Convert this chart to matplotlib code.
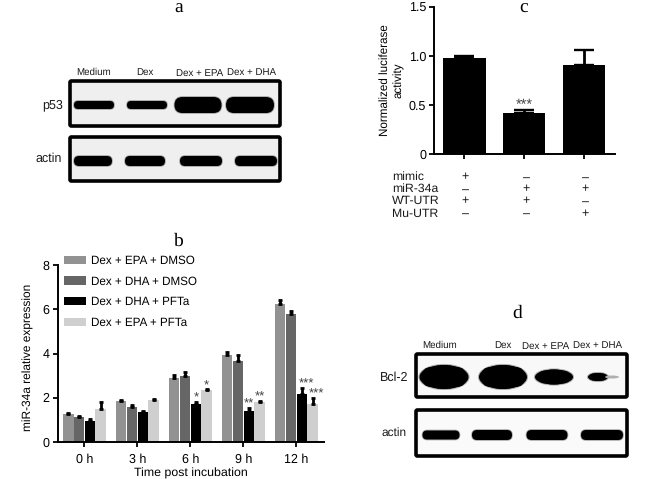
import matplotlib
matplotlib.use("Agg")
import matplotlib.pyplot as plt
from matplotlib.patches import Ellipse, FancyBboxPatch
import numpy as np

plt.rcParams['font.family'] = ['Liberation Sans', 'DejaVu Sans']
plt.rcParams['text.hinting'] = 'no_hinting'

# panel b
times = ["0 h", "3 h", "6 h", "9 h", "12 h"]
series_names = ["Dex + EPA + DMSO", "Dex + DHA + DMSO", "Dex + DHA + PFTa", "Dex + EPA + PFTa"]
series_colors = ["#929292", "#666666", "#000000", "#cfcfcf"]
epa_dmso = [1.27, 1.85, 2.90, 3.93, 6.22]
dha_dmso = [1.13, 1.58, 3.00, 3.65, 5.80]
dha_pfta = [0.97, 1.35, 1.70, 1.40, 2.15]
epa_pfta = [1.50, 1.88, 2.33, 1.82, 1.70]
epa_dmso_err = [0.05, 0.07, 0.12, 0.12, 0.22]
dha_dmso_err = [0.05, 0.10, 0.15, 0.30, 0.10]
dha_pfta_err = [0.05, 0.05, 0.12, 0.15, 0.30]
epa_pfta_err = [0.30, 0.07, 0.05, 0.05, 0.30]
# (group, series, stars)
b_stars = [(2, 2, "*"), (2, 3, "*"), (3, 2, "**"), (3, 3, "**"), (4, 2, "***"), (4, 3, "***")]

# panel c
c_values = [0.98, 0.42, 0.91]
c_err = [0.02, 0.03, 0.15]
c_rows = ["mimic", "miR-34a", "WT-UTR", "Mu-UTR"]
c_signs = [["+", "–", "–"], ["–", "+", "+"], ["+", "+", "–"], ["–", "–", "+"]]

# blots: band centre x, width, height in pixels of the picture
a_lanes = ["Medium", "Dex", "Dex + EPA", "Dex + DHA"]
a_p53 = [(94, 40, 8), (147, 40, 8), (198, 47, 16), (250, 48, 16)]
a_actin = [(93, 38, 10), (145, 40, 10), (201, 42, 10), (256, 42, 10)]
d_bcl2 = [(444, 49, 24), (503, 48, 24), (554, 38, 15), (598, 20, 8)]
d_actin = [(441, 37, 9), (492, 40, 10), (547, 41, 10), (602, 42, 10)]

fig = plt.figure(figsize=(6.48, 4.79), dpi=100)
W, H = 648.0, 479.0


def px_axes(left, top, right, bottom):
    return fig.add_axes([left / W, 1 - bottom / H, (right - left) / W, (bottom - top) / H])


overlay = fig.add_axes([0, 0, 1, 1], zorder=5)
overlay.set_xlim(0, W)
overlay.set_ylim(H, 0)
overlay.axis("off")
overlay.patch.set_alpha(0)


def blot(left, top, right, bottom, bands, y, shape="round", bg="#efefef"):
    overlay.add_patch(FancyBboxPatch((left, top), right - left, bottom - top,
                                     boxstyle="round,pad=0,rounding_size=1.5",
                                     fc=bg, ec="black", lw=2.6))
    for x, w, h in bands:
        if shape == "ellipse":
            overlay.add_patch(Ellipse((x, y), w, h, fc="black", ec="#00000050", lw=1.5))
            overlay.add_patch(Ellipse((x, y), w * 0.86, h * 1.0, fc="black", ec="none"))
            overlay.add_patch(FancyBboxPatch((x - w * 0.25, y), w * 0.5, 0,
                                             boxstyle="round,pad=%f" % (h * 0.42),
                                             fc="black", ec="none"))
        else:
            overlay.add_patch(FancyBboxPatch((x - w / 2 + h / 2, y), w - h, 0,
                                             boxstyle="round,pad=%f" % (h / 2),
                                             fc="black", ec="#00000050", lw=1.2))


def label(x, y, s, size=7, **kw):
    overlay.text(x, y, s, fontsize=size, ha=kw.pop("ha", "center"), va="center", color="#1a1a1a", **kw)


for x, y, s in [(179, 8, "a"), (179, 241, "b"), (524, 8, "c"), (517, 313, "d")]:
    overlay.text(x, y, s, fontsize=14, family="Liberation Serif", ha="center", va="center")

# panel a
blot(70, 81, 280, 126, a_p53, 105)
blot(70, 137, 280, 181, a_actin, 161)
for x, y, s in zip([94, 145, 200, 252], [72, 72, 73, 72], a_lanes):
    label(x, y, s)
label(53, 105, "p53", 9)
label(49, 159, "actin", 9)

# panel d
blot(416, 354, 627, 397, d_bcl2, 377, "ellipse", "#f8f8f8")
overlay.add_patch(Ellipse((612, 377), 14, 3, fc="#b0b0b0", ec="none"))
blot(416, 410, 627, 456, d_actin, 435, bg="#fafafa")
for x, y, s in zip([440, 503, 546, 598], [345, 345, 346, 345], a_lanes):
    label(x, y, s)
label(394, 378, "Bcl-2", 9)
label(394, 433, "actin", 8.6)

# panel b chart
ax = px_axes(58.3, 265, 324, 442)
x = np.arange(len(times))
bar_w = 0.205
all_vals = [epa_dmso, dha_dmso, dha_pfta, epa_pfta]
all_errs = [epa_dmso_err, dha_dmso_err, dha_pfta_err, epa_pfta_err]
for i in range(4):
    pos = x + (i - 1.5) * bar_w
    ax.bar(pos, all_vals[i], bar_w * 0.98, color=series_colors[i], label=series_names[i], zorder=2)
    ax.errorbar(pos, all_vals[i], yerr=[np.zeros(5), all_errs[i]], fmt="none", ecolor="black",
                elinewidth=2, capsize=1.2, capthick=2, zorder=3)
for g, s, stars in b_stars:
    top = all_vals[s][g] + all_errs[s][g]
    # the 12 h stars sit a little to the right of their bars
    shift = 0.08 if g == 4 else 0
    ax.text(x[g] + (s - 1.5) * bar_w + shift, top + 0.16, stars, fontsize=9.5, color="#444444",
            ha="center", va="center")
ax.set_xlim(-0.494, 4.52)
ax.set_ylim(0, 8)
ax.set_yticks([0, 2, 4, 6, 8])
ax.set_xticks(x)
ax.set_xticklabels(times)
ax.tick_params(labelsize=9, width=1.3, length=3.5, pad=3)
ax.tick_params(axis="x", pad=5)
ax.set_xlabel("Time post incubation", fontsize=8.9, labelpad=1)
ax.set_ylabel("miR-34a relative expression", fontsize=8.6, labelpad=6, y=0.477)
ax.spines["top"].set_visible(False)
ax.spines["right"].set_visible(False)
ax.spines["left"].set_linewidth(1.4)
ax.spines["bottom"].set_linewidth(1.4)
ax.legend(loc="upper left", bbox_to_anchor=(0.021, 1.056), frameon=False, fontsize=8.4,
          handlelength=1.9, handleheight=0.7, labelspacing=0.82, handletextpad=0.45, borderpad=0,
          borderaxespad=0)

# panel c chart
axc = px_axes(434, 7.3, 615, 153.7)
xc = np.arange(3)
axc.bar(xc, c_values, 0.71, color="black", zorder=2)
axc.errorbar(xc, c_values, yerr=[[0, 0, 0], c_err], fmt="none", ecolor="black",
             elinewidth=2, capsize=7, capthick=1.7, zorder=3)
axc.text(xc[1], c_values[1] + c_err[1] + 0.05, "***", fontsize=10.5, color="#444444",
         ha="center", va="center")
axc.set_xlim(-0.507, 2.518)
axc.set_ylim(0, 1.5)
axc.set_yticks([0, 0.5, 1.0, 1.5])
axc.set_yticklabels(["0", "0.5", "1.0", "1.5"])
axc.set_xticks(xc)
axc.set_xticklabels([])
axc.tick_params(labelsize=9, width=1.3, length=3.5, pad=2)
axc.set_ylabel("Normalized luciferase\nactivity", fontsize=8.4, labelpad=3, linespacing=1.35)
axc.spines["top"].set_visible(False)
axc.spines["right"].set_visible(False)
axc.spines["left"].set_linewidth(1.4)
axc.spines["bottom"].set_linewidth(1.4)

for row, signs, y in zip(c_rows, c_signs, [177, 189, 201, 214]):
    label(392, y, row, 8.8, ha="left")
    for cx, sign in zip([465, 526, 585], signs):
        label(cx, y, sign, 9)

fig.savefig("out.png", dpi=100)
